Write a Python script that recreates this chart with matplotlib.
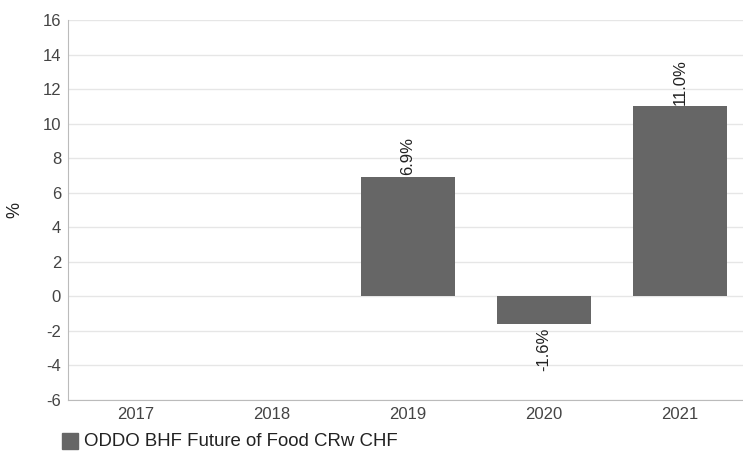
import numpy as np
import matplotlib.pyplot as plt

plt.rcParams['font.family'] = ['Liberation Sans', 'DejaVu Sans']
plt.rcParams['axes.unicode_minus'] = False

annees = ["2017", "2018", "2019", "2020", "2021"]
valeurs = [np.nan, np.nan, 6.9, -1.6, 11.0]
etiquettes = ["", "", "6.9%", "-1.6%", "11.0%"]
serie = "ODDO BHF Future of Food CRw CHF"

fig = plt.figure(figsize=(7.43, 4.51), dpi=100)
ax = fig.add_axes([68 / 743, 1 - 400 / 451, 680 / 743, 380 / 451])

x = np.arange(len(annees))
ax.bar(x, valeurs, width=0.69, color="#666666", zorder=3)

for xi, v, txt in zip(x, valeurs, etiquettes):
    if np.isnan(v):
        continue
    if v >= 0:
        ax.text(xi, v + 0.1, txt, rotation=90, ha="center", va="bottom",
                fontsize=12, color="#222222", zorder=4)
    else:
        ax.text(xi, v - 0.2, txt, rotation=90, ha="center", va="top",
                fontsize=12, color="#222222", zorder=4)

ax.set_xlim(-0.5, len(annees) - 0.5)
ax.set_ylim(-6, 16)
ax.set_yticks(np.arange(-6, 17, 2))
ax.set_xticks(x)
ax.set_xticklabels(annees)
ax.tick_params(axis="both", length=0, labelsize=12, colors="#444444")
ax.tick_params(axis="y", pad=5)
ax.tick_params(axis="x", pad=5)
ax.grid(axis="y", color="#e6e6e6", linewidth=1, zorder=0)

for cote in ["top", "right"]:
    ax.spines[cote].set_visible(False)
for cote in ["left", "bottom"]:
    ax.spines[cote].set_color("#bbbbbb")

fig.text(15 / 743, 1 - 210 / 451, "%", rotation=90, ha="center", va="center",
         fontsize=13, color="#222222")

# legende
fig.patches.append(plt.Rectangle((62 / 743, 1 - 449 / 451), 16 / 743, 16 / 451,
                                 transform=fig.transFigure, color="#666666"))
fig.text(84 / 743, 1 - 441 / 451, serie, ha="left", va="center",
         fontsize=13.4, color="#222222")

plt.savefig("out.png", dpi=100)
